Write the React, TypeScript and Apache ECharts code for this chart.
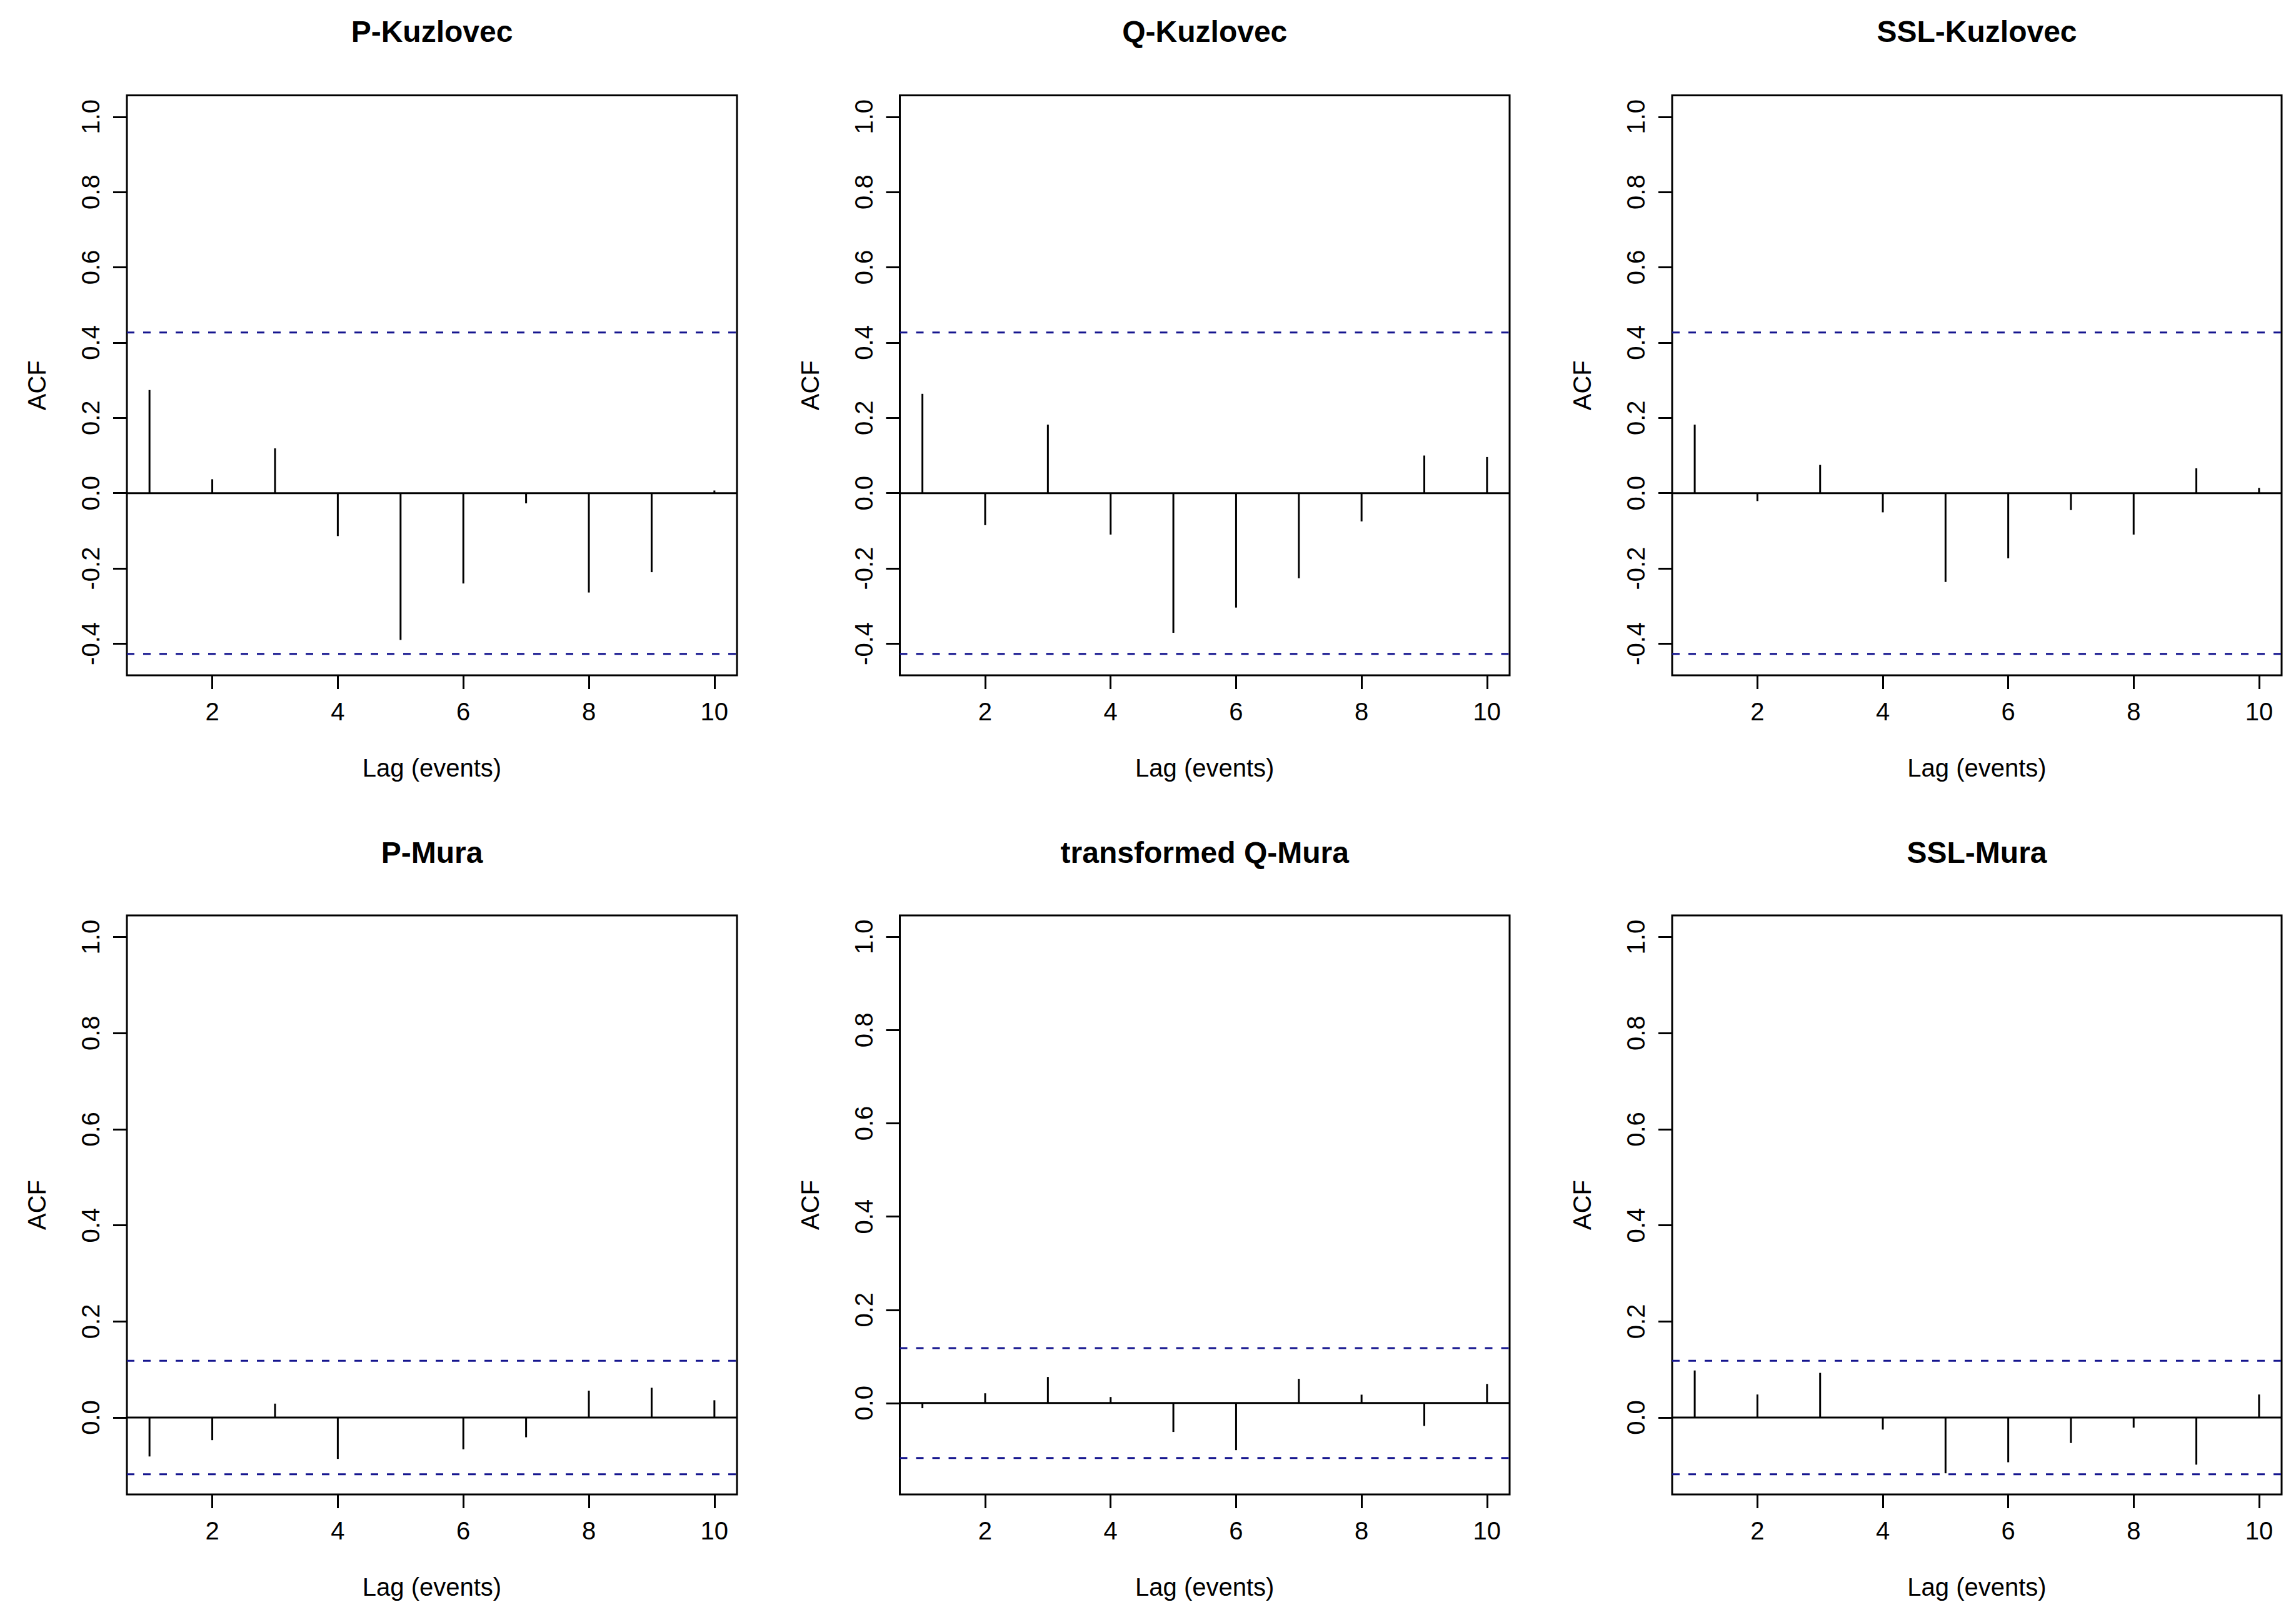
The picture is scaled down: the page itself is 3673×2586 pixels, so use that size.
import React, { useEffect, useRef } from "react";
import * as echarts from "echarts";

// ---- data ----
const lags = [1, 2, 3, 4, 5, 6, 7, 8, 9, 10];
const panelTitles = ["P-Kuzlovec", "Q-Kuzlovec", "SSL-Kuzlovec", "P-Mura", "transformed Q-Mura", "SSL-Mura"];
const pKuzlovec = [0.274, 0.037, 0.119, -0.114, -0.39, -0.24, -0.027, -0.264, -0.21, 0.007];
const qKuzlovec = [0.264, -0.085, 0.182, -0.11, -0.371, -0.304, -0.226, -0.075, 0.1, 0.096];
const sslKuzlovec = [0.182, -0.021, 0.075, -0.051, -0.236, -0.173, -0.045, -0.11, 0.066, 0.014];
const pMura = [-0.081, -0.047, 0.029, -0.086, 0, -0.066, -0.041, 0.056, 0.062, 0.036];
const qMuraTransformed = [-0.011, 0.021, 0.056, 0.013, -0.062, -0.101, 0.052, 0.018, -0.049, 0.041];
const sslMura = [0.098, 0.048, 0.093, -0.025, -0.116, -0.093, -0.053, -0.021, -0.098, 0.048];
const confLimits = [0.427, 0.427, 0.427, 0.118, 0.118, 0.118];
const yMins = [-0.484, -0.484, -0.484, -0.16, -0.196, -0.16];
const yMaxs = [1.057, 1.057, 1.057, 1.045, 1.046, 1.045];
const yTicksTop = [-0.4, -0.2, 0, 0.2, 0.4, 0.6, 0.8, 1.0];
const yTicksBottom = [0, 0.2, 0.4, 0.6, 0.8, 1.0];
const xTicks = [2, 4, 6, 8, 10];
const xMin = 0.64;
const xMax = 10.36;

const allSeries = [pKuzlovec, qKuzlovec, sslKuzlovec, pMura, qMuraTransformed, sslMura];

const FONT = "'Liberation Sans', Arial, Helvetica, sans-serif";
const LW = 3;

export default function App() {
  const ref = useRef<HTMLDivElement>(null);
  useEffect(() => {
    if (!ref.current) return;
    const chart = echarts.init(ref.current, null, { renderer: "svg" });
    const colLeft = [203, 1439.5, 2675];
    const colWidth = [976, 975.5, 975];
    const rowTop = [152.5, 1464];
    const rowHeight = [927.5, 926];
    const titleTop = [26, 1339];

    const grids: any[] = [];
    const xAxes: any[] = [];
    const yAxes: any[] = [];
    const titles: any[] = [];
    const series: any[] = [];

    for (let i = 0; i < 6; i++) {
      const r = Math.floor(i / 3);
      const c = i % 3;
      grids.push({
        left: colLeft[c],
        top: rowTop[r],
        width: colWidth[c],
        height: rowHeight[r],
        show: true,
        borderColor: "#000",
        borderWidth: LW,
        backgroundColor: "transparent",
        containLabel: false,
      });
      titles.push({
        text: panelTitles[i],
        left: colLeft[c] + colWidth[c] / 2,
        top: titleTop[r],
        textAlign: "center",
        padding: 0,
        textStyle: { fontSize: 48, fontWeight: "bold", color: "#000", fontFamily: FONT },
      });
      xAxes.push({
        type: "value",
        gridIndex: i,
        position: "bottom",
        min: xMin,
        max: xMax,
        name: "Lag (events)",
        nameLocation: "middle",
        nameGap: 128,
        nameTextStyle: { fontSize: 40, color: "#000", fontFamily: FONT },
        axisLine: { show: false, onZero: false },
        splitLine: { show: false },
        axisTick: {
          show: true,
          length: 22,
          customValues: xTicks,
          lineStyle: { color: "#000", width: LW },
        },
        axisLabel: {
          show: true,
          customValues: xTicks,
          margin: 38,
          fontSize: 40,
          color: "#000",
          fontFamily: FONT,
          formatter: (v: number) => String(v),
        },
      });
      const yt = r === 0 ? yTicksTop : yTicksBottom;
      yAxes.push({
        type: "value",
        gridIndex: i,
        position: "left",
        min: yMins[i],
        max: yMaxs[i],
        name: "ACF",
        nameLocation: "middle",
        nameRotate: 90,
        nameGap: 124,
        nameTextStyle: { fontSize: 40, color: "#000", fontFamily: FONT },
        axisLine: { show: false, onZero: false },
        splitLine: { show: false },
        axisTick: {
          show: true,
          length: 22,
          customValues: yt,
          lineStyle: { color: "#000", width: LW },
        },
        axisLabel: {
          show: true,
          customValues: yt,
          rotate: 90,
          margin: 38,
          fontSize: 40,
          color: "#000",
          fontFamily: FONT,
          formatter: (v: number) => v.toFixed(1),
        },
      });

      const vals = allSeries[i];
      const cl = confLimits[i];
      // zero line
      series.push({
        type: "line",
        xAxisIndex: i,
        yAxisIndex: i,
        data: [
          [xMin, 0],
          [xMax, 0],
        ],
        symbol: "none",
        silent: true,
        lineStyle: { color: "#000", width: LW, type: "solid" },
        z: 2,
      });
      // confidence limits
      [cl, -cl].forEach((lim) => {
        series.push({
          type: "line",
          xAxisIndex: i,
          yAxisIndex: i,
          data: [
            [xMin, lim],
            [xMax, lim],
          ],
          symbol: "none",
          silent: true,
          lineStyle: { color: "#16168f", width: LW, type: [12, 14] },
          z: 2,
        });
      });
      // ACF stems
      series.push({
        type: "custom",
        xAxisIndex: i,
        yAxisIndex: i,
        data: lags.map((l, k) => [l, vals[k]]),
        encode: { x: 0, y: 1 },
        silent: true,
        z: 3,
        renderItem: (params: any, api: any) => {
          const x = api.value(0);
          const y = api.value(1);
          const p0 = api.coord([x, 0]);
          const p1 = api.coord([x, y]);
          return {
            type: "line",
            shape: { x1: p0[0], y1: p0[1], x2: p1[0], y2: p1[1] },
            style: { stroke: "#000", lineWidth: LW },
          };
        },
      });
    }

    chart.setOption({
      animation: false,
      backgroundColor: "#fff",
      textStyle: { fontFamily: FONT },
      title: titles,
      grid: grids,
      xAxis: xAxes,
      yAxis: yAxes,
      series,
    });
    return () => chart.dispose();
  }, []);

  return (
    <div
      ref={ref}
      style={{ position: "absolute", left: 0, top: 0, width: 3673, height: 2586, background: "#fff" }}
    />
  );
}
